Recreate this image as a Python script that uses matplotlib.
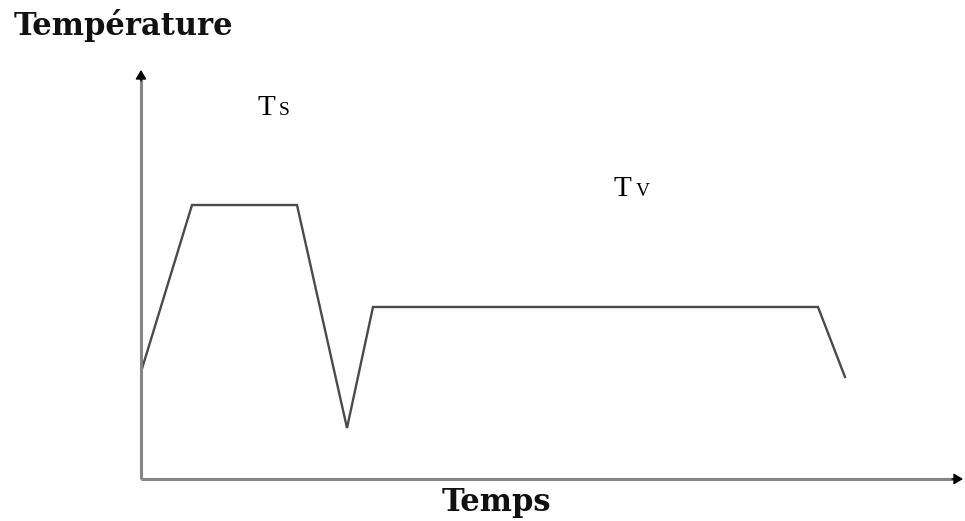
import matplotlib
matplotlib.use("Agg")
import matplotlib.pyplot as plt

# temperature profile (time, temperature) in arbitrary units
temps_x = [0, 51, 156, 206, 232, 677, 704]
temps_y = [107, 274, 274, 51, 172, 172, 102]

ts_label = ("T", "S")
tv_label = ("T", "V")

plt.rcParams['font.family'] = ['Liberation Serif', 'DejaVu Serif']

fig = plt.figure(figsize=(9.65, 5.21), dpi=100)
ax = fig.add_axes([141 / 965, 42 / 521, 822 / 965, 409 / 521])
ax.set_xlim(0, 822)
ax.set_ylim(0, 409)
ax.axis("off")

ax.plot(temps_x, temps_y, color="#4a4a4a", linewidth=1.7, solid_joinstyle="miter")

# axes: gray shafts, black arrow heads
axis_col = "#858585"
ax.plot([0, 0], [0, 402], color=axis_col, lw=2.2, solid_capstyle="butt", clip_on=False)
ax.plot([0, 814], [0, 0], color=axis_col, lw=2.2, solid_capstyle="butt", clip_on=False)
ax.annotate("", xy=(0, 409), xytext=(0, 398),
            arrowprops=dict(arrowstyle="-|>,head_length=0.55,head_width=0.33",
                            color="black", lw=1, shrinkA=0, shrinkB=0),
            annotation_clip=False)
ax.annotate("", xy=(822, 0), xytext=(811, 0),
            arrowprops=dict(arrowstyle="-|>,head_length=0.55,head_width=0.33",
                            color="black", lw=1, shrinkA=0, shrinkB=0),
            annotation_clip=False)

fig.text(14 / 965, 1 - 26 / 521, "Température", fontsize=22, fontweight="bold",
         family="DejaVu Serif", va="center", ha="left", color="#111111")
fig.text(496 / 965, 1 - 503 / 521, "Temps", fontsize=22, fontweight="bold",
         family="DejaVu Serif", va="center", ha="center", color="#111111")

# labels with small-cap subscripts
fig.text(257 / 965, 1 - 115 / 521, ts_label[0], fontsize=21, va="baseline", ha="left")
fig.text(279 / 965, 1 - 115 / 521, ts_label[1], fontsize=14, va="baseline", ha="left")
fig.text(614 / 965, 1 - 196 / 521, tv_label[0], fontsize=21, va="baseline", ha="left")
fig.text(636 / 965, 1 - 196 / 521, tv_label[1], fontsize=14, va="baseline", ha="left")

fig.savefig("out.png", dpi=100)
